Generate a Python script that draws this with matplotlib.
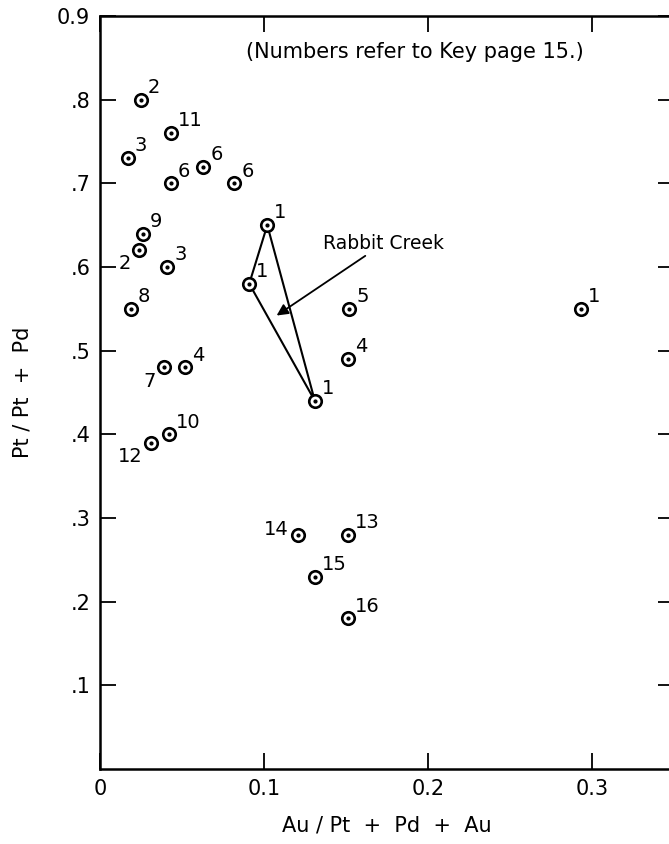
import matplotlib.pyplot as plt

# Pt/(Pt+Pd) against Au/(Pt+Pd+Au), numbers refer to key page 15
au_ratio = [0.025, 0.043, 0.017, 0.043, 0.063, 0.082, 0.102, 0.026, 0.024, 0.041,
            0.091, 0.019, 0.039, 0.052, 0.131, 0.031, 0.042, 0.152, 0.151, 0.293,
            0.121, 0.151, 0.131, 0.151]
pt_ratio = [0.80, 0.76, 0.73, 0.70, 0.72, 0.70, 0.65, 0.64, 0.62, 0.60,
            0.58, 0.55, 0.48, 0.48, 0.44, 0.39, 0.40, 0.55, 0.49, 0.55,
            0.28, 0.28, 0.23, 0.18]
key_labels = ['2', '11', '3', '6', '6', '6', '1', '9', '2', '3',
              '1', '8', '7', '4', '1', '12', '10', '5', '4', '1',
              '14', '13', '15', '16']
# labels drawn below-left / left of the point instead of as superscript
left_labels = {8: 'below', 12: 'below', 15: 'below', 20: 'left'}

rabbit_x = [0.102, 0.091, 0.131, 0.102]
rabbit_y = [0.65, 0.58, 0.44, 0.65]

x_ticks = [0, 0.1, 0.2, 0.3]
x_tick_labels = ['0', '0.1', '0.2', '0.3']
y_ticks = [0.1, 0.2, 0.3, 0.4, 0.5, 0.6, 0.7, 0.8, 0.9]
y_tick_labels = ['.1', '.2', '.3', '.4', '.5', '.6', '.7', '.8', '0.9']

plt.rcParams['font.family'] = ['DejaVu Sans']

fig = plt.figure(figsize=(6.69, 8.44), dpi=100)
ax = fig.add_axes([100 / 669, 75 / 844, 574 / 669, 753 / 844])

# Rabbit Creek triangle
ax.plot(rabbit_x, rabbit_y, color='black', lw=1.5, zorder=2)

# circled-dot symbols
ax.plot(au_ratio, pt_ratio, linestyle='none', marker='o', markersize=9,
        markerfacecolor='white', markeredgecolor='black', markeredgewidth=1.9, zorder=3)
ax.plot(au_ratio, pt_ratio, linestyle='none', marker='o', markersize=2,
        color='black', zorder=4)

for i, (x, y, lab) in enumerate(zip(au_ratio, pt_ratio, key_labels)):
    pos = left_labels.get(i)
    if pos == 'below':
        ax.annotate(lab, (x, y), xytext=(-6, -3), textcoords='offset points',
                    ha='right', va='top', fontsize=14)
    elif pos == 'left':
        ax.annotate(lab, (x, y), xytext=(-7, -3), textcoords='offset points',
                    ha='right', va='bottom', fontsize=14)
    else:
        ax.annotate(lab, (x, y), xytext=(5, 2), textcoords='offset points',
                    ha='left', va='bottom', fontsize=14)

ax.annotate('Rabbit Creek', xy=(0.1077, 0.542), xytext=(0.136, 0.628),
            ha='left', va='center', fontsize=13.5,
            arrowprops=dict(arrowstyle='-|>', color='black', lw=1.3,
                            mutation_scale=17, shrinkA=0, shrinkB=0))

ax.text(0.192, 0.857, '(Numbers refer to Key page 15.)', ha='center', va='center',
        fontsize=15)

ax.set_xlim(0, 0.35)
ax.set_ylim(0, 0.9)
ax.set_xticks(x_ticks)
ax.set_xticklabels(x_tick_labels)
ax.set_yticks(y_ticks)
ax.set_yticklabels(y_tick_labels)
ax.tick_params(direction='in', length=11.5, width=1.3, top=True, right=True,
               labelsize=15, pad=7)

for s in ax.spines.values():
    s.set_linewidth(1.8)

ax.set_xlabel('Au / Pt  +  Pd  +  Au', fontsize=15, labelpad=12)
ax.set_ylabel('Pt / Pt  +  Pd', fontsize=15, labelpad=18)

plt.savefig('out.png', dpi=100)
